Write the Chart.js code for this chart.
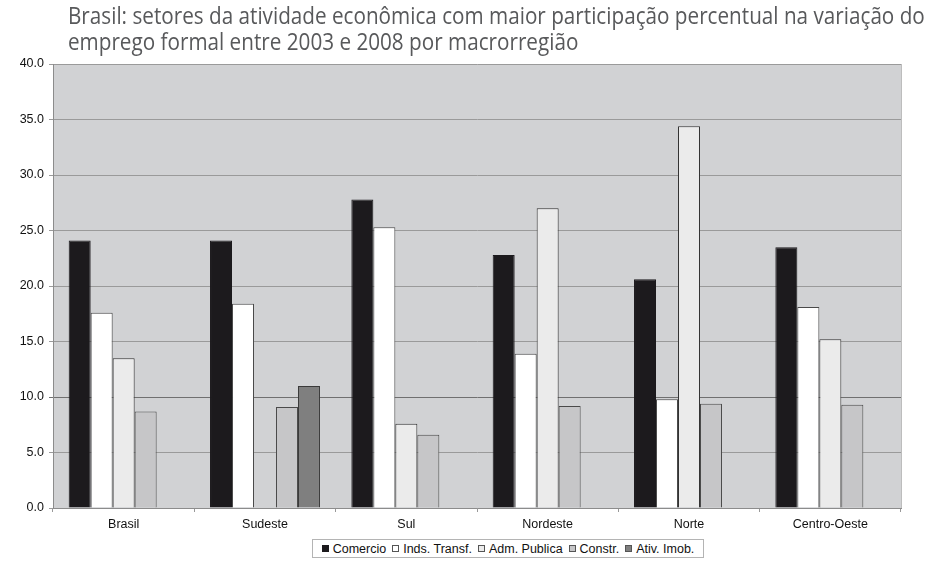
<!DOCTYPE html>
<html><head><meta charset="utf-8">
<script src="https://cdn.jsdelivr.net/npm/chart.js@4.4.0/dist/chart.umd.min.js"></script>
<style>
html,body{margin:0;padding:0;background:#fff;}
#wrap{position:relative;width:944px;height:566px;overflow:hidden;background:#fff;}
canvas{position:absolute;left:0;top:0;}
#title{position:absolute;left:68px;top:2px;font-family:"Open Sans";font-size:23px;line-height:26px;color:#58595b;white-space:nowrap;transform-origin:0 0;}
#legend{position:absolute;left:312px;top:539px;width:390px;height:17px;border:1px solid #b4b4b4;background:#fff;display:flex;align-items:center;justify-content:center;font-family:"Liberation Sans",Arial,sans-serif;font-size:12.5px;color:#111;}
.item{display:flex;align-items:center;margin:0 3px;white-space:nowrap;}
.sw{width:7px;height:7px;border:1px solid #444;margin-right:4px;box-sizing:border-box;}
</style></head>
<body>
<div id="wrap">
<canvas id="c" width="944" height="566"></canvas>
<div id="title"><span id="t1"></span><br><span id="t2"></span></div>
<div id="legend"></div>
</div>
<script>
const titleLines = ["Brasil: setores da atividade econômica com maior participação percentual na variação do", "emprego formal entre 2003 e 2008 por macrorregião"];
const categories = ["Brasil", "Sudeste", "Sul", "Nordeste", "Norte", "Centro-Oeste"];
const seriesNames = ["Comercio", "Inds. Transf.", "Adm. Publica", "Constr.", "Ativ. Imob."];
const comercio   = [24.1, 24.1, 27.8, 22.8, 20.6, 23.5];
const indsTransf = [17.6, 18.4, 25.3, 13.9, 9.8, 18.1];
const admPublica = [13.5, null, 7.6, 27.0, 34.4, 15.2];
const constr     = [8.7, 9.1, 6.6, 9.2, 9.4, 9.3];
const ativImob   = [null, 11.0, null, null, null, null];
const yTicks = [0, 5, 10, 15, 20, 25, 30, 35, 40];

const fills = ["#1c1a1d", "#ffffff", "#ebebeb", "#c6c6c8", "#7f7f7f"];
const borders = ["#1c1a1d", "#4a4a4a", "#333333", "#4a4a4a", "#3a3a3a"];
const values = [comercio, indsTransf, admPublica, constr, ativImob];

document.getElementById('t1').textContent = titleLines[0];
document.getElementById('t2').textContent = titleLines[1];

const leg = document.getElementById('legend');
seriesNames.forEach((n, i) => {
  const it = document.createElement('div'); it.className = 'item';
  const sw = document.createElement('div'); sw.className = 'sw';
  sw.style.background = fills[i];
  sw.style.borderColor = i === 0 ? '#1c1a1d' : '#555';
  const tx = document.createElement('span'); tx.textContent = n;
  it.appendChild(sw); it.appendChild(tx); leg.appendChild(it);
});

function fitTitle() {
  const t = document.getElementById('title');
  const w = document.getElementById('t1').offsetWidth;
  if (w > 0) t.style.transform = 'scaleX(' + (857 / w) + ')';
}
fitTitle();
if (document.fonts && document.fonts.ready) document.fonts.ready.then(fitTitle);

const bgPlugin = {
  id: 'plotBg',
  beforeDraw(chart) {
    const {ctx, chartArea: a} = chart;
    ctx.save();
    ctx.fillStyle = '#d1d2d4';
    ctx.fillRect(a.left, a.top, a.right - a.left, a.bottom - a.top);
    ctx.strokeStyle = '#bdbdbd';
    ctx.lineWidth = 1;
    ctx.beginPath();
    ctx.moveTo(a.right + 0.5, a.top);
    ctx.lineTo(a.right + 0.5, a.bottom);
    ctx.stroke();
    ctx.restore();
  }
};

new Chart(document.getElementById('c'), {
  type: 'bar',
  data: {
    labels: categories,
    datasets: seriesNames.map((n, i) => ({
      label: n,
      data: values[i],
      backgroundColor: fills[i],
      borderColor: borders[i],
      borderWidth: 1,
      categoryPercentage: 0.778,
      barPercentage: 1.0
    }))
  },
  options: {
    responsive: false,
    animation: false,
    events: [],
    layout: { padding: { top: 64, right: 43, bottom: 28, left: 0 } },
    plugins: { legend: { display: false }, tooltip: { enabled: false }, title: { display: false } },
    scales: {
      x: {
        grid: { display: true, drawOnChartArea: false, offset: true, tickLength: 4, color: '#999' },
        border: { color: '#8c8c8c' },
        ticks: { color: '#111', padding: 5, font: { family: 'Liberation Sans', size: 12.5 } },
        afterFit(s) { s.height = 30; }
      },
      y: {
        min: 0, max: 40,
        afterBuildTicks(s) { s.ticks = yTicks.map(v => ({ value: v })); },
        grid: {
          color: ctx => (ctx.tick && ctx.tick.value === 10) ? '#707070' : '#9a9a9a',
          tickLength: 4
        },
        border: { color: '#8c8c8c' },
        ticks: { color: '#111', padding: 5, font: { family: 'Liberation Sans', size: 12.5 },
                 callback: v => Number(v).toFixed(1) },
        afterFit(s) { s.width = 53; }
      }
    }
  },
  plugins: [bgPlugin]
});
</script>
</body></html>
